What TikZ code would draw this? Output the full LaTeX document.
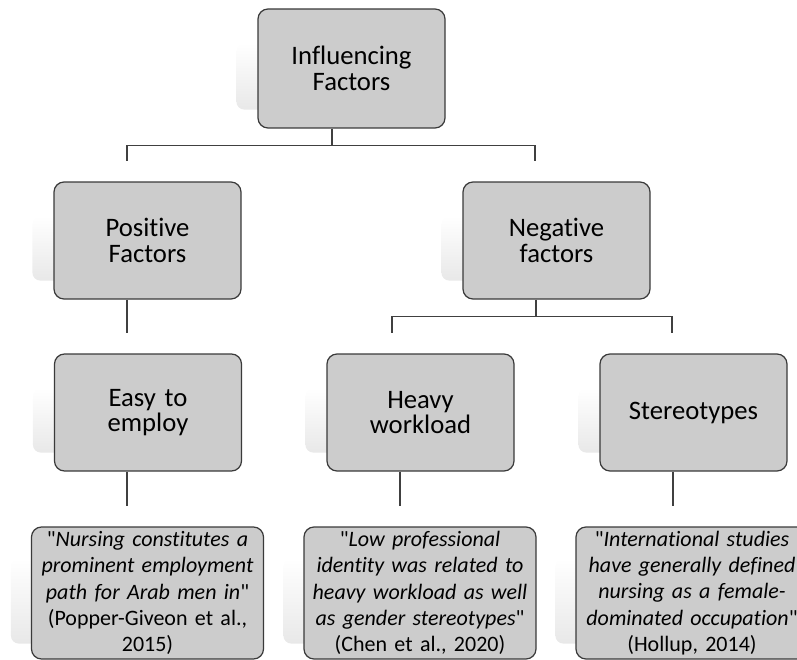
\documentclass[tikz,border=0pt]{standalone}
\usepackage{fontspec}
\setmainfont{Carlito}[Ligatures={TeXOff,NoCommon}]
\usetikzlibrary{calc,backgrounds}
\newcommand\dq{\symbol{34}}
\definecolor{boxfill}{HTML}{CCCCCC}
\definecolor{boxline}{HTML}{3A3A3A}
\definecolor{connline}{HTML}{404040}
\tikzset{
 fbox/.style={draw=boxline, line width=0.9pt, fill=boxfill, rounded corners=7.5pt,
   minimum width=140.25pt, minimum height=87.75pt, align=center,
   font=\fontsize{20}{19}\selectfont, inner sep=0pt, text width=136pt},
 qbox/.style={draw=boxline, line width=0.9pt, fill=boxfill, rounded corners=7.5pt,
   minimum width=174pt, minimum height=99pt, align=center,
   font=\fontsize{16.5}{19.8}\selectfont, inner sep=0pt, text width=172pt},
 conn/.style={draw=connline, line width=0.8pt},
 shd/.style={rounded corners=6pt, top color=white, bottom color=black!9, draw=none}
}
\begin{document}
\begin{tikzpicture}[x=0.75pt,y=-0.75pt]
\useasboundingbox (0,0) rectangle (797,660);
\clip (0,0) rectangle (797,660);
% nodes
\node[fbox, minimum height=89.25pt] (top) at (351.5,68.5) {Influencing\\Factors};
\node[fbox] (pos) at (147.5,240.5) {Positive\\Factors};
\node[fbox] (neg) at (556.5,240.5) {Negative\\factors};
\node[fbox] (easy) at (148,412.5) {Easy to\\employ};
\node[fbox] (heavy) at (420.5,412.5) {Heavy\\workload};
\node[fbox] (stereo) at (693.5,412.5) {Stereotypes};
\node[qbox] (q1) at (147.5,593) {\dq\textit{Nursing constitutes a}\\\textit{prominent employment}\\\textit{path for Arab men in}\dq\\(Popper-Giveon et al.,\\2015)};
\node[qbox] (q2) at (420,593) {\dq\textit{Low professional}\\\textit{identity was related to}\\\textit{heavy workload as well}\\\textit{as gender stereotypes}\dq\\(Chen et al., 2020)};
\node[qbox] (q3) at (692,593) {\dq\textit{International studies}\\\textit{have generally defined}\\\textit{nursing as a female-}\\\textit{dominated occupation}\dq\\(Hollup, 2014)};
% shadows
\begin{scope}[on background layer]
\foreach \n in {top,pos,neg,easy,heavy,stereo}
  \shade[shd] ($(\n.south west)+(-21,-19)$) rectangle ($(\n.north east)+(-21,35)$);
\foreach \n in {q1,q2,q3}
  \shade[shd] ($(\n.south west)+(-20,-16)$) rectangle ($(\n.north east)+(-20,32)$);
\end{scope}
% connector end points
\coordinate (tl) at ($(pos.north)+(-20.5,-20)$);
\coordinate (tr) at ($(neg.north)+(-21.5,-20)$);
\coordinate (hl) at ($(heavy.north)+(-28.5,-20)$);
\coordinate (hr) at ($(stereo.north)+(-21.5,-20)$);
% connectors
\draw[conn] ($(top.south)+(-19.5,0)$) -- ++(0,17) coordinate (hub1) -| (tl);
\draw[conn] (hub1) -| (tr);
\draw[conn] ($(pos.south)+(-20.5,0)$) -- ($(easy.north)+(-21,-20)$);
\draw[conn] ($(neg.south)+(-20.5,0)$) -- ++(0,17) coordinate (hub2) -| (hl);
\draw[conn] (hub2) -| (hr);
\draw[conn] ($(easy.south)+(-21,0)$) -- ($(q1.north)+(-20.5,-20)$);
\draw[conn] ($(heavy.south)+(-20.5,0)$) -- ($(q2.north)+(-20,-20)$);
\draw[conn] ($(stereo.south)+(-20.5,0)$) -- ($(q3.north)+(-19,-20)$);
\end{tikzpicture}
\end{document}
